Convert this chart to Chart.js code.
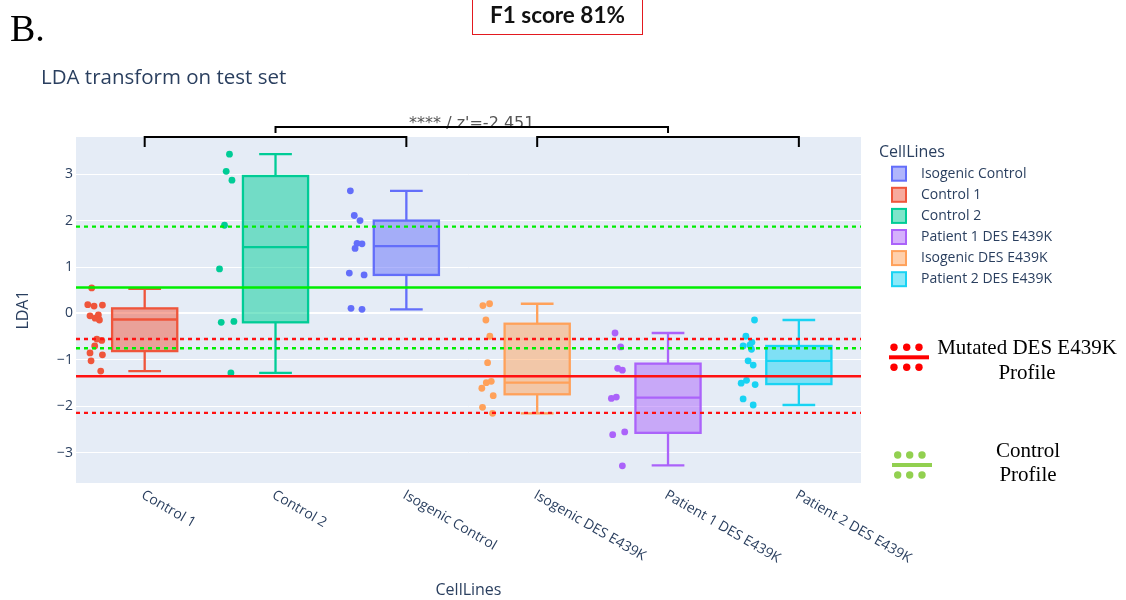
<!DOCTYPE html>
<html>
<head>
<meta charset="utf-8">
<title>LDA transform on test set</title>
<script src="https://cdn.jsdelivr.net/npm/chart.js@4.4.1/dist/chart.umd.min.js"></script>
<style>
  html, body { margin: 0; padding: 0; background: #fff; }
  #wrap { position: relative; width: 1126px; height: 600px; overflow: hidden; }
  #chart { position: absolute; left: 0; top: 0; }
  .note { position: absolute; white-space: nowrap; line-height: 1; }
  #panel { left: 10px; top: 6px; font: 38px "Liberation Serif", serif; color: #000; }
  #score { left: 472px; top: -2px; width: 169px; height: 35px; border: 1px solid #e3191f; }
  #score span { position: absolute; left: 0; right: 0; top: 2px; text-align: center; font: bold 22.5px Lato, sans-serif; color: #111; }
  #title { left: 41px; top: 62px; font: 20.5px "Open Sans", sans-serif; color: #2a3f5f; }
  .profile { position: absolute; width: 220px; text-align: center; font: 21px "Liberation Serif", serif; color: #000; white-space: nowrap; }
  #mutated { left: 917px; top: 335px; line-height: 25px; }
  #control { left: 918px; top: 438px; line-height: 24px; }
</style>
</head>
<body>
<div id="wrap">
  <canvas id="chart" width="1126" height="600"></canvas>
  <div class="note" id="panel">B.</div>
  <div class="note" id="score"><span>F1 score 81%</span></div>
  <div class="note" id="title">LDA transform on test set</div>
  <div class="profile" id="mutated">Mutated DES E439K<br>Profile</div>
  <div class="profile" id="control">Control<br>Profile</div>
</div>
<script>
// categories in x order
const cellLines = ['Control 1', 'Control 2', 'Isogenic Control', 'Isogenic DES E439K', 'Patient 1 DES E439K', 'Patient 2 DES E439K'];
// legend order (index into cellLines)
const legendOrder = [2, 0, 1, 4, 3, 5];

// box statistics per cell line
const lowerFence = [-1.24, -1.28, 0.09, -2.15, -3.27, -1.97];
const q1 = [-0.81, -0.19, 0.83, -1.74, -2.57, -1.52];
const median = [-0.13, 1.43, 1.45, -1.49, -1.81, -1.02];
const q3 = [0.11, 2.96, 2.00, -0.22, -1.08, -0.70];
const upperFence = [0.53, 3.43, 2.64, 0.21, -0.42, -0.14];

// individual samples and their horizontal jitter (category units)
const control1Points = [0.55, 0.19, 0.16, 0.18, -0.05, -0.10, -0.03, -0.14, -0.55, -0.58, -0.70, -0.85, -0.89, -1.02, -1.24];
const control1Jitter = [-0.380, -0.410, -0.362, -0.298, -0.393, -0.354, -0.329, -0.321, -0.341, -0.303, -0.357, -0.393, -0.298, -0.385, -0.311];
const control2Points = [3.43, 3.06, 2.87, 1.90, 0.96, -0.19, -0.17, -1.28];
const control2Jitter = [-0.327, -0.352, -0.308, -0.365, -0.403, -0.390, -0.293, -0.316];
const isoControlPoints = [2.64, 2.11, 2.00, 1.51, 1.50, 1.40, 0.87, 0.83, 0.11, 0.09];
const isoControlJitter = [-0.403, -0.373, -0.329, -0.352, -0.314, -0.367, -0.411, -0.298, -0.398, -0.314];
const isoDesPoints = [0.17, 0.21, -0.14, -0.49, -1.06, -1.49, -1.46, -1.61, -1.77, -2.02, -2.15];
const isoDesJitter = [-0.390, -0.339, -0.367, -0.337, -0.354, -0.364, -0.326, -0.398, -0.311, -0.393, -0.316];
const patient1Points = [-0.42, -0.72, -1.18, -1.22, -1.83, -1.80, -2.55, -2.61, -3.28];
const patient1Jitter = [-0.380, -0.337, -0.360, -0.324, -0.408, -0.370, -0.306, -0.398, -0.324];
const patient2Points = [-0.14, -0.49, -0.70, -0.68, -0.62, -0.77, -1.02, -1.11, -1.50, -1.44, -1.53, -1.84, -1.97];
const patient2Jitter = [-0.314, -0.380, -0.401, -0.350, -0.334, -0.337, -0.363, -0.324, -0.416, -0.375, -0.309, -0.401, -0.324];

// reference profiles: [mean, upper, lower]
const controlProfile = [0.56, 1.87, -0.75];
const mutatedProfile = [-1.35, -0.55, -2.14];

// y axis ticks
const yTicks = [-3, -2, -1, 0, 1, 2, 3];

// significance brackets [from, to, level]
const brackets = [[0, 2, 0], [3, 5, 0], [1, 4, 1]];
const bracketLabel = "**** / z'=-2.451";

const pointSets = [
    [control1Points, control1Jitter],
    [control2Points, control2Jitter],
    [isoControlPoints, isoControlJitter],
    [isoDesPoints, isoDesJitter],
    [patient1Points, patient1Jitter],
    [patient2Points, patient2Jitter]
];

// styling
const colors = ['#EF553B', '#00CC96', '#636EFA', '#FFA15A', '#AB63FA', '#19D3F3'];
const fills = ['rgba(239,85,59,0.5)', 'rgba(0,204,150,0.5)', 'rgba(99,110,250,0.5)', 'rgba(255,161,90,0.5)', 'rgba(171,99,250,0.5)', 'rgba(25,211,243,0.5)'];
const fontColor = '#2a3f5f';
const boxShift = 0.025;
const boxHalf = 0.249;
const capHalf = 0.125;

function hline(value, color, dashed) {
    return {
        type: 'line',
        data: [{ x: -0.5, y: value }, { x: 5.5, y: value }],
        borderColor: color,
        borderWidth: 2.4,
        borderDash: dashed ? [4, 4] : [],
        pointRadius: 0,
        fill: false
    };
}

const lineDatasets = [
    hline(controlProfile[0], '#00ee00', false),
    hline(controlProfile[1], '#00ee00', true),
    hline(controlProfile[2], '#00ee00', true),
    hline(mutatedProfile[0], '#ff1111', false),
    hline(mutatedProfile[1], '#ff1111', true),
    hline(mutatedProfile[2], '#ff1111', true)
];

const pointDatasets = pointSets.map(([vals, jit], i) => ({
    type: 'scatter',
    label: cellLines[i],
    data: vals.map((v, k) => ({ x: i + jit[k], y: v })),
    backgroundColor: colors[i],
    borderWidth: 0,
    pointRadius: 3.4
}));

const plotBackground = {
    id: 'plotBackground',
    beforeDraw(chart) {
        const { ctx, chartArea: a } = chart;
        ctx.save();
        ctx.fillStyle = '#E5ECF6';
        ctx.fillRect(a.left, a.top, a.right - a.left, a.bottom - a.top);
        ctx.restore();
    }
};

const boxPlot = {
    id: 'boxPlot',
    beforeDatasetsDraw(chart) {
        const { ctx, scales: { x, y } } = chart;
        cellLines.forEach((name, i) => {
            const c = i + boxShift;
            const left = x.getPixelForValue(c - boxHalf);
            const right = x.getPixelForValue(c + boxHalf);
            const mid = x.getPixelForValue(c);
            const capL = x.getPixelForValue(c - capHalf);
            const capR = x.getPixelForValue(c + capHalf);
            const top = y.getPixelForValue(q3[i]);
            const bottom = y.getPixelForValue(q1[i]);
            const med = y.getPixelForValue(median[i]);
            const hi = y.getPixelForValue(upperFence[i]);
            const lo = y.getPixelForValue(lowerFence[i]);

            ctx.save();
            ctx.fillStyle = fills[i];
            ctx.fillRect(left, top, right - left, bottom - top);
            ctx.strokeStyle = colors[i];
            ctx.lineWidth = 2.3;
            ctx.strokeRect(left, top, right - left, bottom - top);
            ctx.beginPath();
            ctx.moveTo(left, med); ctx.lineTo(right, med);
            ctx.moveTo(mid, top); ctx.lineTo(mid, hi);
            ctx.moveTo(capL, hi); ctx.lineTo(capR, hi);
            ctx.moveTo(mid, bottom); ctx.lineTo(mid, lo);
            ctx.moveTo(capL, lo); ctx.lineTo(capR, lo);
            ctx.stroke();
            ctx.restore();
        });
    }
};

const annotations = {
    id: 'annotations',
    afterDraw(chart) {
        const { ctx, scales: { x }, chartArea: a } = chart;
        ctx.save();

        // 1. rotated category labels
        ctx.font = '14px "Open Sans"';
        ctx.fillStyle = fontColor;
        ctx.textAlign = 'left';
        ctx.textBaseline = 'middle';
        cellLines.forEach((name, i) => {
            ctx.save();
            ctx.translate(x.getPixelForValue(i) + 1, a.bottom + 11);
            ctx.rotate(Math.PI / 6);
            ctx.fillText(name, 0, 0);
            ctx.restore();
        });

        // 2. significance brackets
        const top = brackets.find(b => b[2] === 1);
        ctx.font = '16px "DejaVu Sans"';
        ctx.fillStyle = '#555';
        ctx.textAlign = 'center';
        ctx.textBaseline = 'alphabetic';
        ctx.fillText(bracketLabel, (x.getPixelForValue(top[0] + boxShift) + x.getPixelForValue(top[1] + boxShift)) / 2, a.top - 9.5);
        ctx.strokeStyle = '#000';
        ctx.lineWidth = 2;
        brackets.forEach(([from, to, level]) => {
            const yLine = a.top - level * 10;
            const drop = level ? 6 : 10;
            const x0 = x.getPixelForValue(from + boxShift);
            const x1 = x.getPixelForValue(to + boxShift);
            ctx.beginPath();
            ctx.moveTo(x0, yLine + drop);
            ctx.lineTo(x0, yLine);
            ctx.lineTo(x1, yLine);
            ctx.lineTo(x1, yLine + drop);
            ctx.stroke();
        });

        // 3. legend
        ctx.textAlign = 'left';
        ctx.textBaseline = 'middle';
        ctx.fillStyle = fontColor;
        ctx.font = '16px "Open Sans"';
        ctx.fillText('CellLines', 879, 152);
        ctx.font = '14px "Open Sans"';
        legendOrder.forEach((idx, k) => {
            const yy = 173.7 + k * 21.1;
            ctx.fillStyle = fills[idx];
            ctx.fillRect(892, yy - 7, 14, 14);
            ctx.strokeStyle = colors[idx];
            ctx.lineWidth = 2;
            ctx.strokeRect(892, yy - 7, 14, 14);
            ctx.fillStyle = fontColor;
            ctx.fillText(cellLines[idx], 921, yy);
        });

        // 4. profile keys
        const drawKey = (color, xs, yMid, barL, barR) => {
            ctx.fillStyle = color;
            xs.forEach(px => {
                [yMid - 10, yMid + 10].forEach(py => {
                    ctx.beginPath();
                    ctx.arc(px, py, 3.7, 0, Math.PI * 2);
                    ctx.fill();
                });
            });
            ctx.fillRect(barL, yMid - 2, barR - barL, 4);
        };
        drawKey('#ff0000', [894, 906.7, 919], 357.3, 889, 929);
        drawKey('#92d050', [897.7, 909.7, 922], 465, 892, 932);

        ctx.restore();
    }
};

new Chart(document.getElementById('chart'), {
    type: 'scatter',
    data: { datasets: [...lineDatasets, ...pointDatasets] },
    options: {
        responsive: false,
        animation: false,
        events: [],
        layout: { padding: { top: 137, right: 265, bottom: 0, left: 0 } },
        plugins: { legend: { display: false }, tooltip: { enabled: false } },
        scales: {
            x: {
                type: 'linear',
                min: -0.5,
                max: 5.5,
                grid: { display: false },
                border: { display: false },
                ticks: { display: false },
                title: { display: true, text: 'CellLines', color: fontColor, font: { family: 'Open Sans', size: 16 }, padding: { top: 0, bottom: 0 } },
                afterFit(s) { s.height = 117; }
            },
            y: {
                min: -3.65,
                max: 3.8,
                afterBuildTicks(s) { s.ticks = yTicks.map(v => ({ value: v })); },
                grid: { color: '#ffffff', lineWidth: c => (c.tick && c.tick.value === 0 ? 2 : 1), drawTicks: false },
                border: { display: false },
                ticks: {
                    color: fontColor,
                    font: { family: 'Open Sans', size: 14 },
                    padding: 3,
                    callback: v => (v < 0 ? '\u2212' + Math.abs(v) : String(v))
                },
                title: { display: true, text: 'LDA1', color: fontColor, font: { family: 'Open Sans', size: 16 }, padding: { top: 14, bottom: 0 } },
                afterFit(s) { s.width = 76; }
            }
        }
    },
    plugins: [plotBackground, boxPlot, annotations]
});
</script>
</body>
</html>
